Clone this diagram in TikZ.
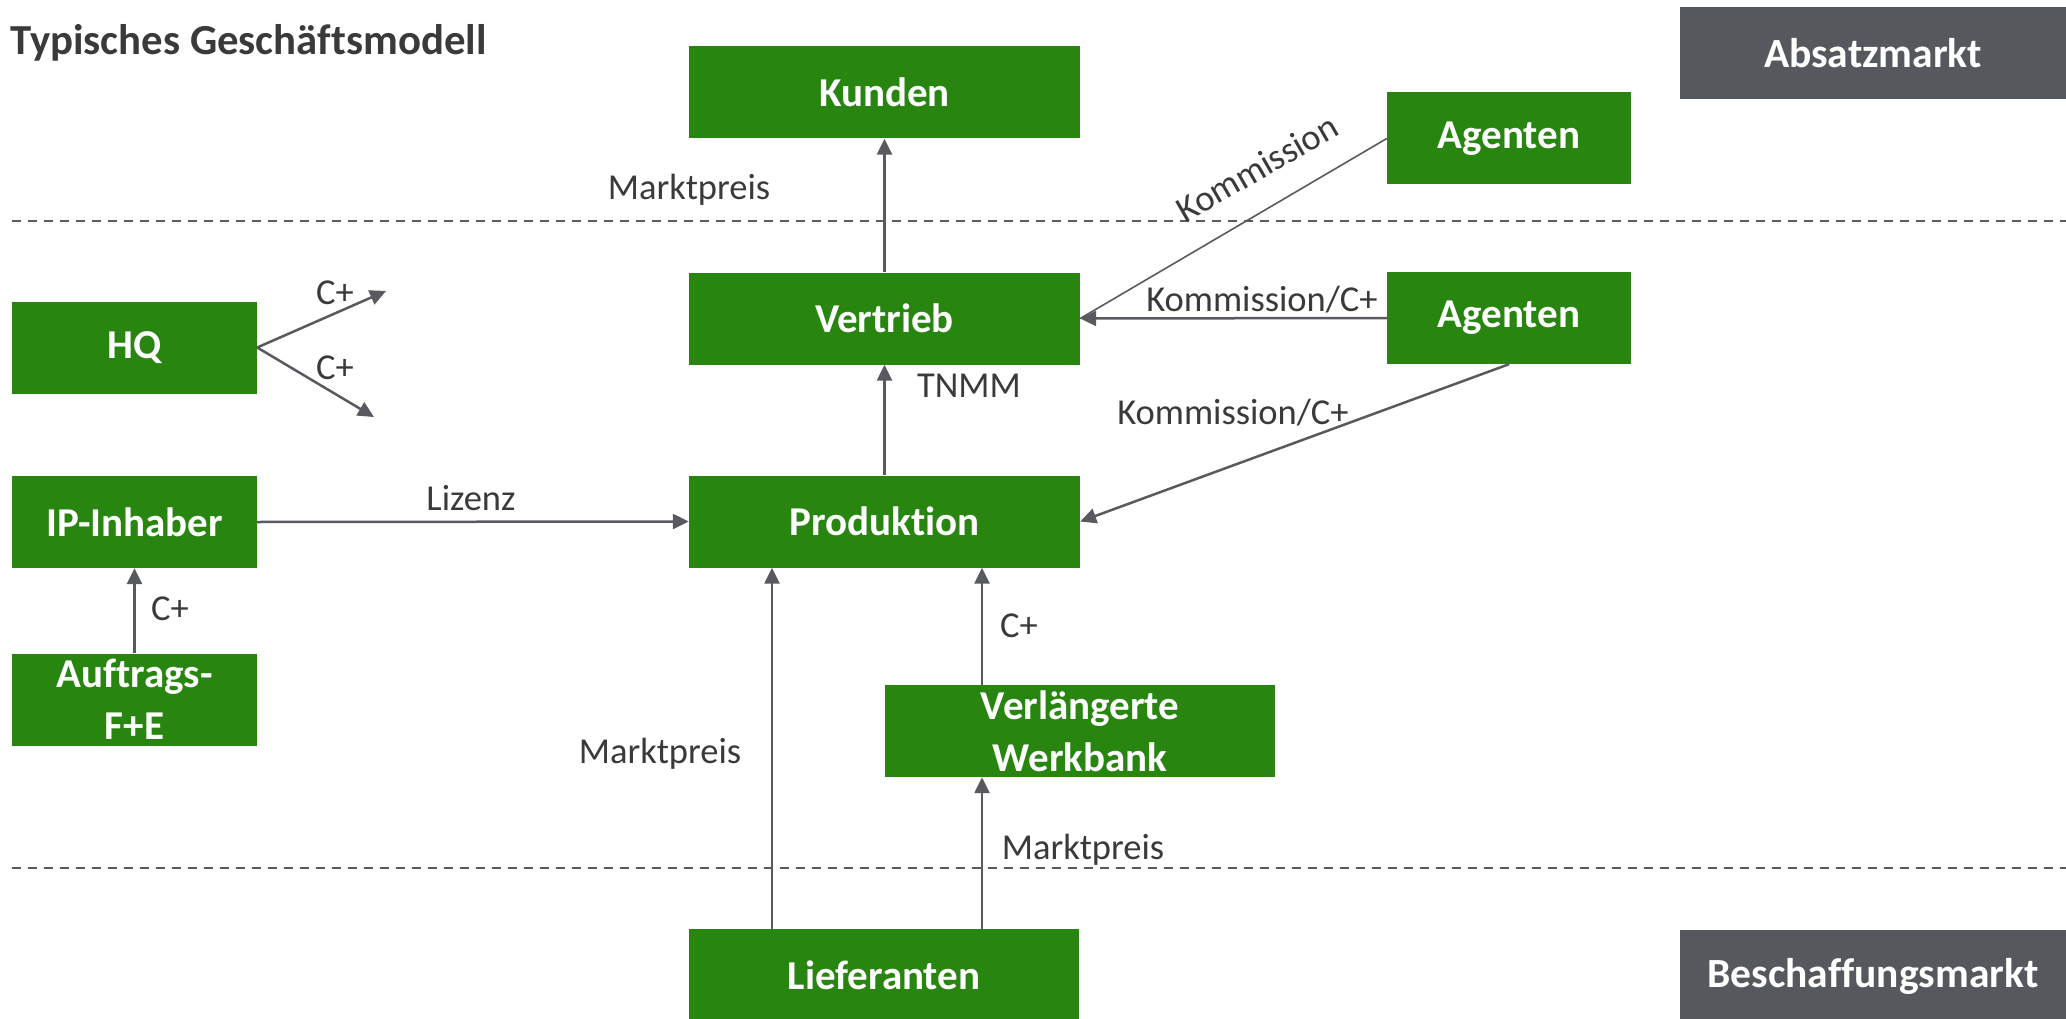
\documentclass[tikz,border=0pt]{standalone}
\usepackage{fontspec}
\setmainfont{Carlito}[Ligatures=CommonOff]
\usetikzlibrary{arrows.meta,calc}

\definecolor{boxgreen}{HTML}{288610}
\definecolor{markgray}{HTML}{55585D}
\definecolor{linegray}{HTML}{585A5F}
\definecolor{textgray}{HTML}{3A3A3A}

\begin{document}
\begin{tikzpicture}[x=1pt,y=-1pt,
  gbox/.style={fill=boxgreen, text=white, inner sep=0pt, align=center,
    font=\fontsize{41}{52}\selectfont\bfseries, minimum height=92pt},
  widebox/.style={gbox, minimum width=391pt},
  smallbox/.style={gbox, minimum width=245pt},
  marketbox/.style={fill=markgray, text=white, inner sep=0pt,
    font=\fontsize{41.5}{52}\selectfont\bfseries, minimum width=386pt, minimum height=92pt},
  lbl/.style={text=textgray, inner sep=0pt, anchor=base,
    font=\fontsize{36.5}{44}\selectfont},
  flow/.style={draw=linegray, line width=2.5pt,
    -{Triangle[length=16pt,width=15pt]}},
  thinflow/.style={draw=linegray, line width=1.6pt},
  divider/.style={draw=linegray, line width=2pt, dash pattern=on 9pt off 7pt}
]
\useasboundingbox (0,0) rectangle (2066,1019);

% title
\node[anchor=base west, inner sep=0pt, text=textgray,
  font=\fontsize{42.8}{50}\selectfont\bfseries] (title) at (10,55) {Typisches Geschäftsmodell};

% market boundaries
\draw[divider] (12,221) -- (2066,221);
\draw[divider] (12,868) -- (2066,868);

% market tags
\node[marketbox] (absatz) at (1873,53) {Absatzmarkt};
\node[marketbox] (beschaffung) at (1873,976) {Beschaffungsmarkt};

% entities
\node[widebox] (kunden) at (884.5,92.5) {Kunden};
\node[smallbox, minimum width=244pt] (ag1) at (1509,138.5) {Agenten};
\node[widebox] (vert) at (884.5,318.5) {Vertrieb};
\node[smallbox, minimum width=244pt] (ag2) at (1509,318) {Agenten};
\node[smallbox] (hq) at (134.5,347.5) {HQ};
\node[smallbox] (ip) at (134.5,522) {IP-Inhaber};
\node[widebox] (prod) at (884.5,521.5) {Produktion};
\node[smallbox] (fue) at (134.5,699.5) {Auftrags-\\F+E};
\node[widebox, minimum width=390pt] (werk) at (1080,731) {Verlängerte\\Werkbank};
\node[widebox, minimum width=390pt] (lief) at (884,975) {Lieferanten};

% free ends and column positions
\coordinate (hqa) at (386,291);
\coordinate (hqb) at (374,417);
\coordinate (xl) at (772,0);
\coordinate (xr) at (982,0);

% flows
\draw[flow] (vert.north) -- (kunden.south);
\draw[flow] (prod.north) -- (vert.south);
\draw[thinflow] (ag1.west) -- (vert.east);
\draw[flow] (ag2.west) -- (vert.east);
\draw[flow] (ag2.south) -- (prod.east);
\draw[flow] (ip.east) -- (prod.west);
\draw[flow] (fue.north) -- (ip.south);
\draw[flow] (hq.east) -- (hqa);
\draw[flow] (hq.east) -- (hqb);
\draw[flow] (lief.north -| xl) -- (prod.south -| xl);
\draw[flow] (lief.north -| xr) -- (werk.south -| xr);
\draw[flow] (werk.north -| xr) -- (prod.south -| xr);

% flow labels
\node[lbl] (l1) at (689,200) {Marktpreis};
\node[lbl, anchor=center, rotate=30] (l2) at (1257,168) {Kommission};
\node[lbl] (l3) at (1262,311) {Kommission/C+};
\node[lbl] (l4) at (969,397) {TNMM};
\node[lbl] (l5) at (1233,424) {Kommission/C+};
\node[lbl] (l6) at (471,510) {Lizenz};
\node[lbl] (l7) at (335,304) {C+};
\node[lbl] (l8) at (335,379) {C+};
\node[lbl] (l9) at (170,620) {C+};
\node[lbl] (l10) at (660,763) {Marktpreis};
\node[lbl] (l11) at (1019,637) {C+};
\node[lbl] (l12) at (1083,859) {Marktpreis};
\end{tikzpicture}
\end{document}
